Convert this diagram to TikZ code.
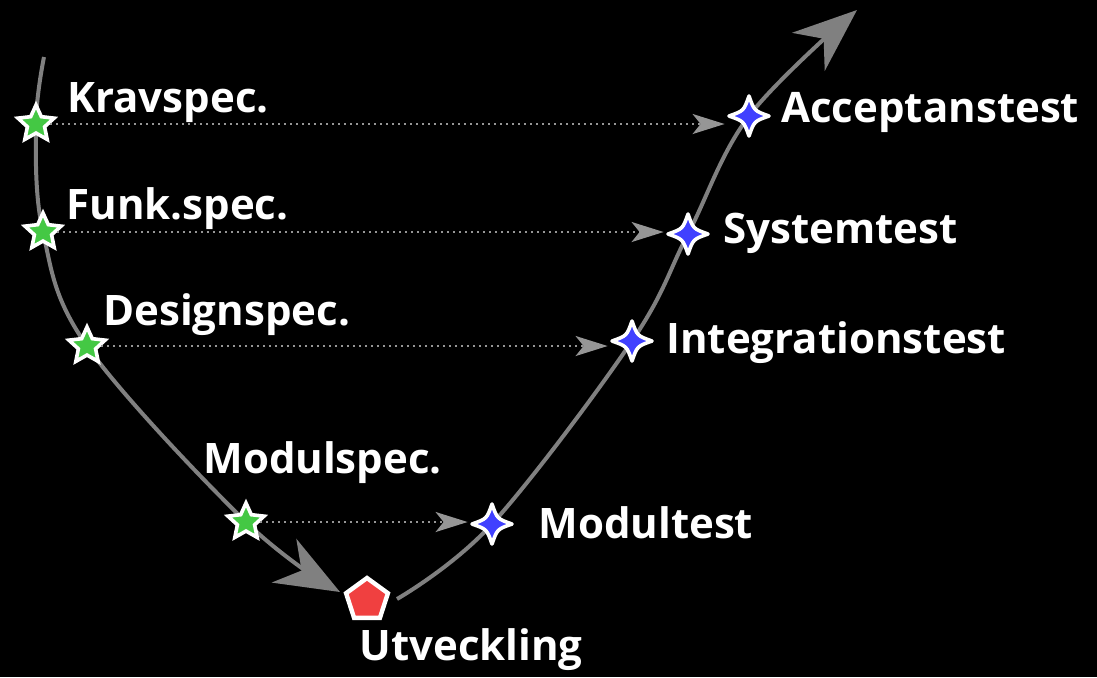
\documentclass[tikz,border=0pt]{standalone}
\usepackage{fontspec}
\setmainfont{Open Sans}
\usetikzlibrary{arrows.meta,shapes.geometric,backgrounds}
\definecolor{curvegray}{RGB}{128,128,128}
\definecolor{dotgray}{RGB}{150,150,150}
\definecolor{specgreen}{RGB}{68,200,68}
\definecolor{testblue}{RGB}{64,64,255}
\definecolor{devred}{RGB}{240,64,64}

\tikzset{
  spec/.style={star,star points=5,star point ratio=2.1,minimum size=19pt,inner sep=0pt,
    fill=specgreen,draw=white,line width=1.8pt},
  testpt/.style={circle,minimum size=24pt,inner sep=0pt},
  devpt/.style={regular polygon,regular polygon sides=5,minimum size=22pt,inner sep=0pt,
    fill=devred,draw=white,line width=2.2pt},
  lbl/.style={anchor=base west,inner sep=0pt,text=white,
    font=\bfseries\fontsize{21}{21}\selectfont},
  vcurve/.style={curvegray,line width=2pt,
    -{Stealth[length=32pt,width=25pt,inset=10pt]}},
  link/.style={dotgray,line width=1pt,dash pattern=on 1pt off 2pt,
    -{Stealth[length=16pt,width=10pt,inset=4pt,sep=0pt]}},
  sparkle/.pic={
    \filldraw[testblue,draw=white,line width=1.8pt,line join=round]
      (10pt,0pt) .. controls (2.6pt,2.6pt) .. (0pt,10pt)
      .. controls (-2.6pt,2.6pt) .. (-10pt,0pt)
      .. controls (-2.6pt,-2.6pt) .. (0pt,-10pt)
      .. controls (2.6pt,-2.6pt) .. cycle;
  }
}

\begin{document}
\begin{tikzpicture}[x=0.5pt,y=-0.5pt]
  \begin{scope}[on background layer]
    \fill[black] (0,0) rectangle (1097,677);
  \end{scope}
  \useasboundingbox (0,0) rectangle (1097,677);

  % specification side
  \node[spec] (krav)   at (36,124)  {};
  \node[spec] (funk)   at (43,232)  {};
  \node[spec] (design) at (87,346)  {};
  \node[spec] (modul)  at (246,522) {};

  % development
  \node[devpt] (dev) at (367,600) {};
  \coordinate (devin)  at (340,592);
  \coordinate (devout) at (397,599);

  % test side
  \node[testpt] (modt)  at (492,524) {};
  \node[testpt] (integ) at (632,341) {};
  \node[testpt] (syst)  at (688,234) {};
  \node[testpt] (acc)   at (749,116) {};
  \coordinate (top)  at (44,57);
  \coordinate (tail) at (857,10);

  \begin{scope}[on background layer]
    \draw[vcurve] plot[smooth,tension=0.6] coordinates
      {(top) (krav.center) (funk.center) (design.center) (modul.center) (devin)};
    \draw[vcurve] plot[smooth,tension=0.6] coordinates
      {(devout) (modt.center) (integ.center) (syst.center) (acc.center) (tail)};
  \end{scope}

  \foreach \t in {modt,integ,syst,acc}
    \pic at (\t) {sparkle};

  \draw[link] (krav)   -- (krav -| acc.west);
  \draw[link] (funk)   -- (funk -| syst.west);
  \draw[link] (design) -- (design -| integ.west);
  \draw[link] (modul)  -- (modul -| modt.west);

  \node[lbl] (kravlbl)   at (67,112)  {Kravspec.};
  \node[lbl] (funklbl)   at (66,219)  {Funk.spec.};
  \node[lbl] (designlbl) at (103,325) {Designspec.};
  \node[lbl] (modullbl)  at (203,473) {Modulspec.};
  \node[lbl] (acclbl)    at (781,122) {Acceptanstest};
  \node[lbl] (systlbl)   at (723,243) {Systemtest};
  \node[lbl] (integlbl)  at (666,353) {Integrationstest};
  \node[lbl] (modtlbl)   at (538,538) {Modultest};
  \node[lbl] (devlbl)    at (359,660) {Utveckling};
\end{tikzpicture}
\end{document}
